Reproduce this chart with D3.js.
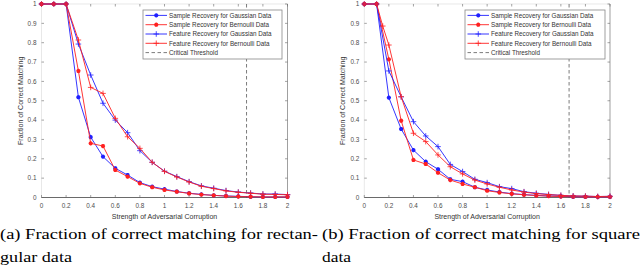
<!DOCTYPE html>
<html>
<head>
	<meta charset="UTF-8">
	<title>Fraction of correct matching</title>
	<style>
		body { margin: 0; background: #fff; }
		svg { display: block; }
		.tick-label { font-family: "Liberation Sans", Arial, sans-serif; font-size: 6.4px; fill: #4d4d4d; }
		.axis-title { font-family: "Liberation Sans", Arial, sans-serif; font-size: 7px; fill: #333; }
		.legend-text { font-family: "Liberation Sans", Arial, sans-serif; font-size: 6.3px; fill: #333; }
		.caption { font-family: "Liberation Serif", "DejaVu Serif", serif; font-size: 14.5px; fill: #000; }
	</style>
</head>
<body>
<script src="https://d3js.org/d3.v7.min.js"></script>
<script>
'use strict';

// x grid shared by most series
var xs = [0, 0.1, 0.2, 0.3, 0.4, 0.5, 0.6, 0.7, 0.8, 0.9, 1.0,
	1.1, 1.2, 1.3, 1.4, 1.5, 1.6, 1.7, 1.8, 1.9, 2.0];

// (a) rectangular data
var rectSampleGauss = [1, 1, 1, 0.518, 0.312, 0.211, 0.151, 0.116, 0.077, 0.056, 0.043,
	0.031, 0.022, 0.016, 0.011, 0.008, 0.006, 0.004, 0.003, 0.003, 0.003];
var rectSampleBern = [1, 1, 1, 0.654, 0.280, 0.266, 0.142, 0.108, 0.073, 0.053, 0.039,
	0.030, 0.021, 0.015, 0.011, 0.007, 0.005, 0.004, 0.003, 0.003, 0.003];
var rectFeatGauss = [1, 1, 1, 0.793, 0.633, 0.487, 0.400, 0.335, 0.242, 0.182, 0.136,
	0.108, 0.082, 0.060, 0.048, 0.036, 0.028, 0.023, 0.018, 0.018, 0.015];
var rectFeatBern = [1, 1, 1, 0.814, 0.569, 0.538, 0.409, 0.314, 0.254, 0.182, 0.135,
	0.106, 0.080, 0.058, 0.046, 0.034, 0.027, 0.022, 0.017, 0.016, 0.014];

// (b) square data
var sqSampleGauss = [1, 1, 0.516, 0.354, 0.245, 0.185, 0.146, 0.094, 0.082, 0.053, 0.039,
	0.028, 0.020, 0.015, 0.011, 0.008, 0.006, 0.004, 0.003, 0.003, 0.003];
var sqSampleBern = [1, 1, 0.714, 0.397, 0.194, 0.173, 0.128, 0.090, 0.070, 0.053, 0.035,
	0.026, 0.019, 0.014, 0.010, 0.007, 0.005, 0.004, 0.003, 0.003, 0.003];
var sqFeatGauss = [1, 1, 0.654, 0.520, 0.392, 0.318, 0.263, 0.171, 0.134, 0.094, 0.077,
	0.056, 0.046, 0.030, 0.022, 0.016, 0.011, 0.008, 0.007, 0.005, 0.006];
var xsSqFeatBern = [0, 0.1, 0.15, 0.2, 0.3, 0.4, 0.5, 0.6, 0.7, 0.8, 0.9, 1.0,
	1.1, 1.2, 1.3, 1.4, 1.5, 1.6, 1.7, 1.8, 1.9, 2.0];
var sqFeatBern = [1, 1, 0.886, 0.788, 0.521, 0.332, 0.289, 0.220, 0.159, 0.122, 0.090, 0.070,
	0.053, 0.039, 0.028, 0.020, 0.015, 0.011, 0.008, 0.007, 0.005, 0.006];

var criticalThreshold = 1.667;

var legendLabels = [
	"Sample Recovery for Gaussian Data",
	"Sample Recovery for Bernoulli Data",
	"Feature Recovery for Gaussian Data",
	"Feature Recovery for Bernoulli Data",
	"Critical Threshold"
];
var xTicks = [0, 0.2, 0.4, 0.6, 0.8, 1, 1.2, 1.4, 1.6, 1.8, 2];
var yTicks = [0, 0.1, 0.2, 0.3, 0.4, 0.5, 0.6, 0.7, 0.8, 0.9, 1];
var xTitle = "Strength of Adversarial Corruption";
var yTitle = "Fraction of Correct Matching";

var BLUE = "#1f1fff", RED = "#ff2020";

var svg = d3.select("body").append("svg")
	.attr("width", 640)
	.attr("height", 268);

function asterisk(x, y, r) {
	var d = "";
	for (var i = 0; i < 4; i++) {
		var a = i * Math.PI / 4;
		var dx = r * Math.cos(a), dy = r * Math.sin(a);
		d += "M" + (x - dx) + "," + (y - dy) + "L" + (x + dx) + "," + (y + dy);
	}
	return d;
}
function plus(x, y, r) {
	return "M" + (x - r) + "," + y + "L" + (x + r) + "," + y +
		"M" + x + "," + (y - r) + "L" + x + "," + (y + r);
}

function drawPanel(p) {
	var x = d3.scaleLinear().domain([0, 2]).range([p.left, p.right]);
	var y = d3.scaleLinear().domain([0, 1]).range([p.bottom, p.top]);
	var g = svg.append("g");

	// box (MATLAB style, faint left/top)
	g.append("line").attr("x1", p.left).attr("x2", p.right).attr("y1", p.top).attr("y2", p.top)
		.attr("stroke", "#d8d8d8").attr("stroke-width", 0.6);
	g.append("line").attr("x1", p.left).attr("x2", p.left).attr("y1", p.top).attr("y2", p.bottom)
		.attr("stroke", "#d8d8d8").attr("stroke-width", 0.6);
	g.append("line").attr("x1", p.right).attr("x2", p.right).attr("y1", p.top).attr("y2", p.bottom)
		.attr("stroke", "#777").attr("stroke-width", 0.7);
	g.append("line").attr("x1", p.left).attr("x2", p.right).attr("y1", p.bottom).attr("y2", p.bottom)
		.attr("stroke", "#444").attr("stroke-width", 0.8);

	// inward ticks
	xTicks.forEach(function(t) {
		g.append("line").attr("x1", x(t)).attr("x2", x(t)).attr("y1", p.bottom).attr("y2", p.bottom - 2.5)
			.attr("stroke", "#666").attr("stroke-width", 0.6);
		g.append("line").attr("x1", x(t)).attr("x2", x(t)).attr("y1", p.top).attr("y2", p.top + 2.5)
			.attr("stroke", "#666").attr("stroke-width", 0.6);
		g.append("text").attr("class", "tick-label")
			.attr("x", x(t)).attr("y", p.bottom + 10)
			.attr("text-anchor", "middle")
			.text(d3.format("~g")(t));
	});
	yTicks.forEach(function(t) {
		g.append("line").attr("x1", p.left).attr("x2", p.left + 2.5).attr("y1", y(t)).attr("y2", y(t))
			.attr("stroke", "#666").attr("stroke-width", 0.6);
		g.append("line").attr("x1", p.right).attr("x2", p.right - 2.5).attr("y1", y(t)).attr("y2", y(t))
			.attr("stroke", "#666").attr("stroke-width", 0.6);
		g.append("text").attr("class", "tick-label")
			.attr("x", p.left - 5).attr("y", y(t) + 2.2)
			.attr("text-anchor", "end")
			.text(d3.format("~g")(t));
	});

	// axis titles
	g.append("text").attr("class", "axis-title")
		.attr("x", (p.left + p.right) / 2).attr("y", p.bottom + 21)
		.attr("text-anchor", "middle").text(xTitle);
	g.append("text").attr("class", "axis-title")
		.attr("transform", "translate(" + (p.left - 19) + "," + ((p.top + p.bottom) / 2) + ") rotate(-90)")
		.attr("text-anchor", "middle").text(yTitle);

	// critical threshold
	g.append("line").attr("x1", x(criticalThreshold)).attr("x2", x(criticalThreshold))
		.attr("y1", p.top).attr("y2", p.bottom)
		.attr("stroke", "#444").attr("stroke-width", 0.7).attr("stroke-dasharray", "3.5,2.5");

	var line = d3.line().x(function(d) { return x(d[0]); }).y(function(d) { return y(d[1]); });

	p.series.forEach(function(s) {
		var pts = s.xs.map(function(v, i) { return [v, s.ys[i]]; });
		g.append("path").attr("d", line(pts))
			.attr("fill", "none").attr("stroke", s.color).attr("stroke-width", 0.9);
		g.append("path")
			.attr("d", pts.map(function(d) {
				return s.marker === "*" ? asterisk(x(d[0]), y(d[1]), 2.1) : plus(x(d[0]), y(d[1]), 2.8);
			}).join(""))
			.attr("fill", "none").attr("stroke", s.color)
			.attr("stroke-width", s.marker === "*" ? 1.3 : 0.8);
	});

	// legend
	var lg = g.append("g");
	lg.append("rect").attr("x", p.legX).attr("y", 10).attr("width", p.legW).attr("height", 49)
		.attr("fill", "#fff").attr("stroke", "#888").attr("stroke-width", 0.8);
	var rowY = [15.4, 24.7, 34, 43.3, 52.6];
	legendLabels.forEach(function(lbl, i) {
		var ly = rowY[i];
		var x0 = p.legX + 2.5, x1 = p.legX + 24;
		var s = p.series[i];
		var ln = lg.append("line").attr("x1", x0).attr("x2", x1).attr("y1", ly).attr("y2", ly)
			.attr("stroke-width", 0.9);
		if (s) {
			ln.attr("stroke", s.color);
			lg.append("path")
				.attr("d", s.marker === "*" ? asterisk((x0 + x1) / 2, ly, 2.1) : plus((x0 + x1) / 2, ly, 2.8))
				.attr("fill", "none").attr("stroke", s.color)
				.attr("stroke-width", s.marker === "*" ? 1.3 : 0.8);
		} else {
			ln.attr("stroke", "#444").attr("stroke-width", 0.7).attr("stroke-dasharray", "3.5,2.5");
		}
		lg.append("text").attr("class", "legend-text")
			.attr("x", p.legX + 26).attr("y", ly + 2.2)
			.text(lbl);
	});
}

drawPanel({
	left: 41.5, right: 287.5, top: 4, bottom: 197.5, legX: 143, legW: 139,
	series: [
		{ xs: xs, ys: rectSampleGauss, color: BLUE, marker: "*" },
		{ xs: xs, ys: rectSampleBern, color: RED, marker: "*" },
		{ xs: xs, ys: rectFeatGauss, color: BLUE, marker: "+" },
		{ xs: xs, ys: rectFeatBern, color: RED, marker: "+" }
	]
});
drawPanel({
	left: 364.3, right: 610, top: 4, bottom: 197.5, legX: 465, legW: 140,
	series: [
		{ xs: xs, ys: sqSampleGauss, color: BLUE, marker: "*" },
		{ xs: xs, ys: sqSampleBern, color: RED, marker: "*" },
		{ xs: xs, ys: sqFeatGauss, color: BLUE, marker: "+" },
		{ xs: xsSqFeatBern, ys: sqFeatBern, color: RED, marker: "+" }
	]
});

// captions
var captions = [
	{ x: 0, y: 238.5, w: 318, t: "(a) Fraction of correct matching for rectan-" },
	{ x: 0, y: 262, w: 72, t: "gular data" },
	{ x: 322, y: 238.5, w: 318, t: "(b) Fraction of correct matching for square" },
	{ x: 322, y: 262, w: 29, t: "data" }
];
svg.selectAll("text.caption").data(captions).enter().append("text")
	.attr("class", "caption")
	.attr("x", function(d) { return d.x; })
	.attr("y", function(d) { return d.y; })
	.attr("textLength", function(d) { return d.w; })
	.attr("lengthAdjust", "spacingAndGlyphs")
	.text(function(d) { return d.t; });
</script>
</body>
</html>
